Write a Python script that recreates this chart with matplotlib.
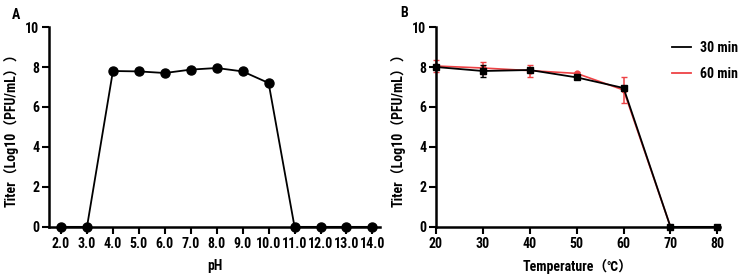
import matplotlib
matplotlib.use('Agg')
import matplotlib.pyplot as plt
from matplotlib.lines import Line2D

# Panel A: pH stability
ph = [2, 3, 4, 5, 6, 7, 8, 9, 10, 11, 12, 13, 14]
ph_titer = [0, 0, 7.8, 7.78, 7.7, 7.87, 7.95, 7.78, 7.2, 0, 0, 0, 0]
ph_labels = ['2.0', '3.0', '4.0', '5.0', '6.0', '7.0', '8.0', '9.0', '10.0', '11.0', '12.0', '13.0', '14.0']

# Panel B: thermal stability
temp = [20, 30, 40, 50, 60, 70, 80]
titer_30 = [8.0, 7.8, 7.85, 7.48, 6.95, 0, 0]
err_30 = [0.1, 0.3, 0.1, 0.08, 0.1, 0, 0]
titer_60 = [8.05, 7.95, 7.82, 7.68, 6.85, 0, 0]
err_60 = [0.3, 0.3, 0.3, 0.05, 0.63, 0, 0]

# condensed sans first, CJK last for the fullwidth brackets and the degree sign
FONT = ['Roboto Condensed', 'PT Sans Narrow', 'Liberation Sans', 'Noto Sans CJK SC']
plt.rcParams['font.family'] = FONT
plt.rcParams['font.weight'] = 'bold'

fig = plt.figure(figsize=(7.44, 2.76), dpi=100)
axA = fig.add_axes([0.066, 0.178, 0.445, 0.724])
axB = fig.add_axes([0.586, 0.178, 0.382, 0.724])


def style(ax):
    for s in ['top', 'right']:
        ax.spines[s].set_visible(False)
    for s in ['left', 'bottom']:
        ax.spines[s].set_linewidth(1.8)
    ax.tick_params(direction='out', length=5, width=1.5, labelsize=10, pad=2)
    ax.set_ylim(0, 10)
    ax.set_yticks([0, 2, 4, 6, 8, 10])
    ax.set_ylabel('Titer（Log10（PFU/mL））', fontsize=10, fontweight='bold', labelpad=5)
    for lab in ax.get_xticklabels() + ax.get_yticklabels():
        lab.set_fontweight('bold')


# panel A
axA.plot(ph, ph_titer, color='black', lw=1.3, marker='o', markersize=6.5, clip_on=False, zorder=3)
axA.set_xlim(1.54, 14.3)
axA.set_xticks(ph)
axA.set_xticklabels(ph_labels)
style(axA)
axA.set_xlabel('pH', fontsize=10, fontweight='bold', labelpad=6)
fig.text(0.022, 0.945, 'A', fontsize=10, fontweight='bold', ha='center', va='center')

# panel B
axB.errorbar(temp, titer_60, yerr=err_60, color='#ee4245', lw=1.2, marker='o', markersize=3.5,
             capsize=2.5, elinewidth=1.1, clip_on=False, zorder=2)
axB.errorbar(temp, titer_30, yerr=err_30, color='black', lw=1.3, marker='s', markersize=4.5,
             capsize=2.5, elinewidth=1.1, clip_on=False, zorder=3)
axB.set_xlim(20, 80.6)
axB.set_xticks([20, 30, 40, 50, 60, 70, 80])
style(axB)
axB.set_xlabel('Temperature（℃）', fontsize=10, fontweight='bold', labelpad=6)
fig.text(0.543, 0.953, 'B', fontsize=10, fontweight='bold', ha='center', va='center')

handles = [Line2D([], [], color='black', lw=1.3), Line2D([], [], color='#ee4245', lw=1.3)]
axB.legend(handles, ['30 min', '60 min'], loc='upper left', bbox_to_anchor=(0.81, 0.96),
           frameon=False, handlelength=1.4, labelspacing=0.9, handletextpad=0.6,
           borderaxespad=0, prop={'weight': 'bold', 'size': 10})

fig.savefig('out.png', dpi=100)
